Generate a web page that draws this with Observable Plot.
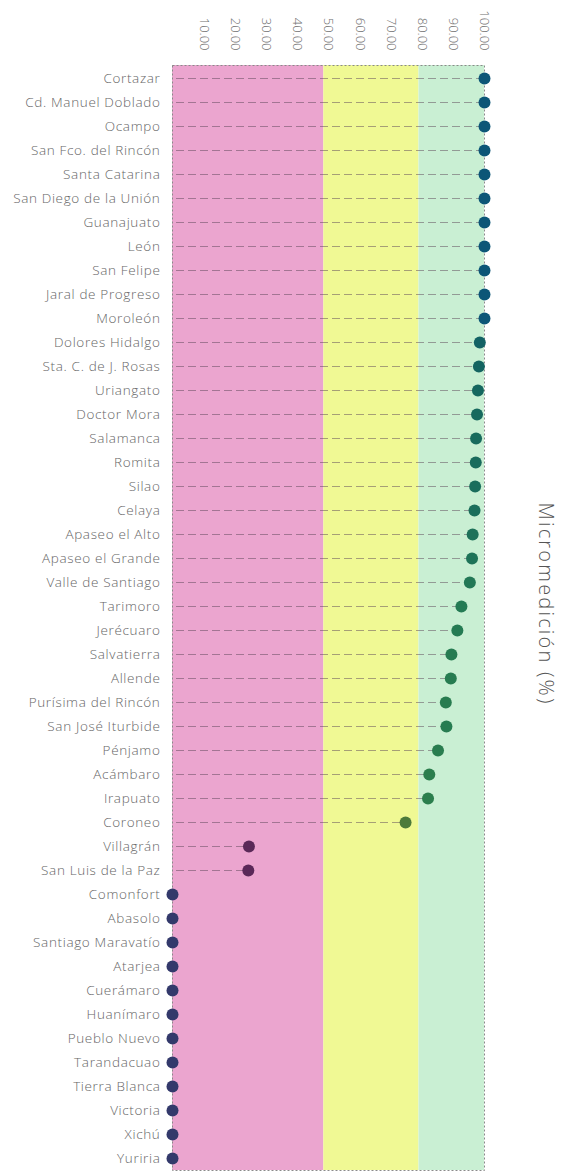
<!DOCTYPE html>
<html>
<head>
<meta charset="utf-8">
<script src="https://cdn.jsdelivr.net/npm/d3@7"></script>
<script src="https://cdn.jsdelivr.net/npm/@observablehq/plot@0.6"></script>
<style>
  html, body { margin: 0; padding: 0; background: #fff; }
  #chart { width: 564px; height: 1172px; }
  #chart g[aria-label="y-axis tick label"] text { letter-spacing: 0.65px; }
  #chart g[aria-label="text"] text { letter-spacing: 2.2px; }
</style>
</head>
<body>
<div id="chart"></div>
<script>
const municipios = [
  "Cortazar", "Cd. Manuel Doblado", "Ocampo", "San Fco. del Rincón", "Santa Catarina",
  "San Diego de la Unión", "Guanajuato", "León", "San Felipe", "Jaral de Progreso",
  "Moroleón", "Dolores Hidalgo", "Sta. C. de J. Rosas", "Uriangato", "Doctor Mora",
  "Salamanca", "Romita", "Silao", "Celaya", "Apaseo el Alto", "Apaseo el Grande",
  "Valle de Santiago", "Tarimoro", "Jerécuaro", "Salvatierra", "Allende",
  "Purísima del Rincón", "San José Iturbide", "Pénjamo", "Acámbaro", "Irapuato",
  "Coroneo", "Villagrán", "San Luis de la Paz", "Comonfort", "Abasolo",
  "Santiago Maravatío", "Atarjea", "Cuerámaro", "Huanímaro", "Pueblo Nuevo",
  "Tarandacuao", "Tierra Blanca", "Victoria", "Xichú", "Yuriria"
];
const micromedicion = [
  100, 100, 100, 100, 100,
  100, 100, 100, 100, 100,
  100, 98.5, 98.2, 97.9, 97.6,
  97.3, 97.2, 97.0, 96.8, 96.2, 96.0,
  95.3, 92.6, 91.3, 89.4, 89.2,
  87.6, 87.8, 85.1, 82.3, 81.9,
  74.7, 24.5, 24.3, 0, 0,
  0, 0, 0, 0, 0,
  0, 0, 0, 0, 0
];
const xTicks = [10, 20, 30, 40, 50, 60, 70, 80, 90, 100];
const bandStart = [0, 48.5, 79];
const bandEnd = [48.5, 79, 100];
const axisTitle = ["Micromedición (%)"];

const bandColors = ["#eba5cf", "#f0f994", "#c9efd3"];
const rows = municipios.map((m, i) => ({m, v: micromedicion[i]}));

const chart = Plot.plot({
  width: 564,
  height: 1172,
  marginTop: 65,
  marginBottom: 2,
  marginLeft: 172,
  marginRight: 80,
  style: {fontFamily: "'Open Sans', sans-serif", fontWeight: 300, background: "#fff"},
  x: {domain: [0, 100], axis: null},
  y: {type: "point", domain: municipios, padding: 0.5, axis: null},
  color: {
    type: "linear",
    domain: [0, 24, 75, 82, 95, 98, 100],
    range: ["#33396b", "#5a2858", "#4c7a3a", "#2b7e4d", "#237a55", "#15665f", "#0c5677"]
  },
  marks: [
    Plot.rect(bandStart, {x1: d => d, x2: (d, i) => bandEnd[i], fill: (d, i) => bandColors[i]}),
    Plot.frame({stroke: "#8a8a8a", strokeDasharray: "2,2", strokeWidth: 1}),
    Plot.ruleY(rows.filter(d => d.v > 0), {
      y: "m", x1: 0, x2: "v",
      stroke: "#5c4658", strokeOpacity: 0.5, strokeWidth: 1.1, strokeDasharray: "8,4", dx: 4
    }),
    Plot.dot(rows, {y: "m", x: "v", r: 6, fill: "v", stroke: null}),
    Plot.axisX(xTicks, {
      anchor: "top", tickSize: 0, tickPadding: 15, tickRotate: 90,
      tickFormat: d => d.toFixed(2), fontSize: 13, fill: "#6f6f6f", label: null
    }),
    Plot.axisY({
      anchor: "left", tickSize: 0, tickPadding: 12, fontSize: 13.5, fill: "#666", label: null
    }),
    Plot.text(axisTitle, {
      frameAnchor: "right", textAnchor: "middle", rotate: 90, dx: 61, dy: -14,
      fontSize: 20, fill: "#555", fontWeight: 300
    })
  ]
});
document.getElementById("chart").appendChild(chart);
</script>
</body>
</html>
